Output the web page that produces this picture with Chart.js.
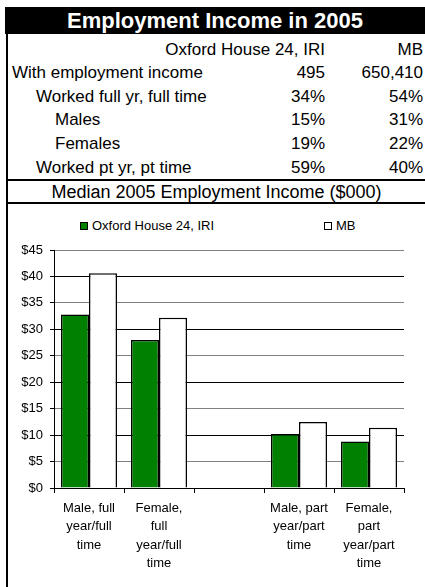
<!DOCTYPE html>
<html>
<head>
<meta charset="utf-8">
<script src="https://cdn.jsdelivr.net/npm/chart.js@4.4.1/dist/chart.umd.min.js"></script>
<style>
  html, body { margin: 0; padding: 0; background: #fff; }
  body { width: 425px; height: 587px; position: relative; overflow: hidden;
         font-family: 'Liberation Sans', Arial, sans-serif; color: #000; }
  .abs { position: absolute; white-space: nowrap; }
  #title { left: 5px; top: 7px; width: 420px; height: 27px; background: #000; color: #fff;
           font-weight: bold; font-size: 22px; line-height: 27px; text-align: center; }
  #lborder { left: 6px; top: 34px; width: 2px; height: 553px; background: #000; }
  .hline { left: 6px; width: 419px; height: 2px; background: #000; }
  .row { height: 24px; line-height: 24px; font-size: 17px; }
  .c1 { right: 100px; text-align: right; }
  .c2 { right: 2px; text-align: right; }
  #median { left: 8px; width: 417px; text-align: center; font-size: 18px; height: 24px; line-height: 24px; }
  .lbox { width: 6px; height: 6px; border: 1px solid #000; }
  .ltext { font-size: 13px; height: 16px; line-height: 16px; }
  #chartWrap { left: 8px; top: 204px; width: 417px; height: 383px; }
</style>
</head>
<body>
<div id="title" class="abs"></div>
<div id="lborder" class="abs"></div>
<div class="abs hline" style="top:179px"></div>
<div class="abs hline" style="top:202px"></div>
<div id="table"></div>
<div id="median" class="abs" style="top:180px"></div>
<div id="legend"></div>
<div id="chartWrap" class="abs"><canvas id="c" width="417" height="383"></canvas></div>
<script>
// ---- Data ----
const titleText = "Employment Income in 2005";
const tableHeader = ["Oxford House 24, IRI", "MB"];
const rowLabels = ["With employment income", "Worked full yr, full time", "Males", "Females", "Worked pt yr, pt time"];
const rowIndent = [12, 36, 55, 55, 36];
const oxfordRowValues = ["495", "34%", "15%", "19%", "59%"];
const mbRowValues = ["650,410", "54%", "31%", "22%", "40%"];
const chartTitle = "Median 2005 Employment Income ($000)";
const seriesNames = ["Oxford House 24, IRI", "MB"];
const categories = [
  ["Male, full", "year/full", "time"],
  ["Female,", "full", "year/full", "time"],
  "",
  ["Male, part", "year/part", "time"],
  ["Female,", "part", "year/part", "time"]
];
const oxfordIncome = [32.8, 28.0, null, 10.2, 8.8];
const mbIncome = [40.6, 32.2, null, 12.5, 11.4];
const yTicks = [0, 5, 10, 15, 20, 25, 30, 35, 40, 45];
const seriesColors = ["#008000", "#ffffff"];

// ---- Table ----
document.getElementById('title').textContent = titleText;
document.getElementById('median').textContent = chartTitle;
const table = document.getElementById('table');
function addCell(text, cls, top, style) {
  const d = document.createElement('div');
  d.className = 'abs row ' + cls;
  d.style.top = top + 'px';
  if (style) Object.assign(d.style, style);
  d.textContent = text;
  table.appendChild(d);
}
const rowTop0 = 37.5, rowStep = 23.6;
addCell(tableHeader[0], 'c1', rowTop0);
addCell(tableHeader[1], 'c2', rowTop0);
rowLabels.forEach((lab, i) => {
  const top = rowTop0 + rowStep * (i + 1);
  addCell(lab, '', top, {left: rowIndent[i] + 'px'});
  addCell(oxfordRowValues[i], 'c1', top);
  addCell(mbRowValues[i], 'c2', top);
});

// ---- Legend (HTML) ----
const legend = document.getElementById('legend');
const legendX = [80, 324];
seriesNames.forEach((name, i) => {
  const b = document.createElement('div');
  b.className = 'abs lbox';
  b.style.left = legendX[i] + 'px';
  b.style.top = '222px';
  b.style.background = seriesColors[i];
  legend.appendChild(b);
  const t = document.createElement('div');
  t.className = 'abs ltext';
  t.style.left = (legendX[i] + 12) + 'px';
  t.style.top = '218px';
  t.textContent = name;
  legend.appendChild(t);
});

// ---- Chart ----
Chart.defaults.font.family = "'Liberation Sans', Arial, sans-serif";
Chart.defaults.font.size = 13;
Chart.defaults.color = '#000';

new Chart(document.getElementById('c'), {
  type: 'bar',
  data: {
    labels: categories,
    datasets: [
      { label: seriesNames[0], data: oxfordIncome, backgroundColor: seriesColors[0],
        borderColor: '#000', borderWidth: 1.5 },
      { label: seriesNames[1], data: mbIncome, backgroundColor: seriesColors[1],
        borderColor: '#000', borderWidth: 1.5 }
    ]
  },
  options: {
    responsive: false,
    devicePixelRatio: 1,
    animation: false,
    layout: { padding: { top: 46, right: 21, left: 0, bottom: 0 } },
    plugins: { legend: { display: false }, tooltip: { enabled: false } },
    datasets: { bar: { categoryPercentage: 0.8, barPercentage: 1.0 } },
    scales: {
      x: {
        grid: { display: true, drawOnChartArea: false, drawTicks: true, tickLength: 5,
                color: '#000', offset: true },
        border: { display: true, color: '#000', width: 1 },
        ticks: { padding: 6, maxRotation: 0, autoSkip: false, font: { size: 13, lineHeight: 1.42 } },
        afterFit: (s) => { s.height = 99; }
      },
      y: {
        min: yTicks[0], max: yTicks[yTicks.length - 1],
        afterBuildTicks: (s) => { s.ticks = yTicks.map(v => ({ value: v })); },
        grid: {
          color: (ctx) => (ctx.index % 2 === 0 ? '#000' : '#808080'),
          tickColor: '#000', tickLength: 4, lineWidth: 1
        },
        border: { display: true, color: '#000', width: 1 },
        ticks: { padding: 7, callback: (v) => '$' + v, font: { size: 13 } },
        afterFit: (s) => { s.width = 46; }
      }
    }
  }
});
</script>
</body>
</html>
